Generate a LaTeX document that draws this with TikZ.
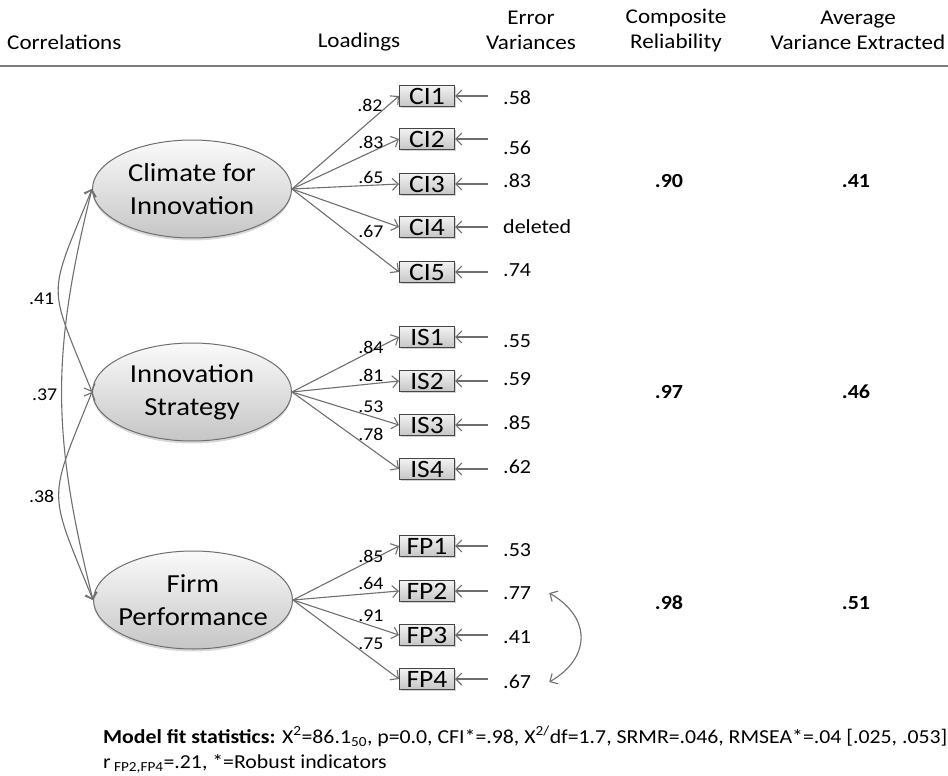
\documentclass[tikz,border=0pt]{standalone}
\usepackage{fontspec}
\setmainfont{Carlito}[FakeStretch=1.1]
\usetikzlibrary{arrows.meta, shapes.geometric, shadows}
\definecolor{linegray}{RGB}{110,110,110}
\definecolor{boxedge}{RGB}{70,70,70}
\definecolor{rulegray}{RGB}{125,125,125}

\begin{document}
\begin{tikzpicture}[x=1pt, y=1pt,
    latent/.style={ellipse, draw=linegray, line width=1pt, top color=gray!4, bottom color=gray!45,
                   minimum width=199pt, minimum height=98pt, inner xsep=-7pt, inner ysep=0pt,
                   align=center, font=\fontsize{26}{33}\selectfont,
                   drop shadow={shadow xshift=0pt, shadow yshift=-2.5pt, opacity=0.3}},
    item/.style={rectangle, draw=boxedge, line width=1pt, top color=gray!10, bottom color=gray!45,
                 minimum width=55pt, minimum height=21pt, inner sep=0pt,
                 font=\fontsize{25}{25}\selectfont,
                 drop shadow={shadow xshift=1.5pt, shadow yshift=-1.5pt, opacity=0.35}},
    arrow/.style={draw=linegray, line width=1.1pt, -{Straight Barb[length=6pt, width=12pt]}},
    both/.style={draw=linegray, line width=1.1pt,
                 {Straight Barb[length=6pt, width=12pt]}-{Straight Barb[length=6pt, width=12pt]}},
    err/.style={anchor=west, inner sep=0pt, font=\fontsize{20}{20}\selectfont},
    load/.style={inner sep=0pt, font=\fontsize{18}{18}\selectfont},
    head/.style={align=center, inner sep=0pt, font=\fontsize{21}{25}\selectfont},
    val/.style={inner sep=0pt, font=\bfseries\fontsize{20}{20}\selectfont}
]
    \useasboundingbox (0,0) rectangle (948,-776);

    \node[head, anchor=west] (hcorr) at (7,-42) {Correlations};
    \node[head] (hload) at (359,-42) {Loadings};
    \node[head] (herr) at (531,-30) {Error\\Variances};
    \node[head] (hcomp) at (676,-30) {Composite\\Reliability};
    \node[head] (have) at (858,-30) {Average\\Variance Extracted};
    \draw[rulegray, line width=2.5pt] (0,-66) -- (948,-66);

    \node[latent] (CI) at (192,-189) {Climate for\\Innovation};
    \node[latent] (IS) at (192,-392) {Innovation\\Strategy};
    \node[latent] (FP) at (193,-600) {Firm\\Performance};

    \node[item] (CI1) at (427,-96) {CI1};
    \node[item] (CI2) at (427,-139) {CI2};
    \node[item] (CI3) at (427,-184) {CI3};
    \node[item] (CI4) at (427,-227) {CI4};
    \node[item] (CI5) at (427,-272) {CI5};
    \node[item] (IS1) at (427,-337) {IS1};
    \node[item] (IS2) at (427,-381) {IS2};
    \node[item] (IS3) at (427,-425) {IS3};
    \node[item] (IS4) at (427,-469) {IS4};
    \node[item] (FP1) at (427,-546) {FP1};
    \node[item] (FP2) at (427,-591) {FP2};
    \node[item] (FP3) at (427,-635) {FP3};
    \node[item] (FP4) at (427,-679) {FP4};

    \node[err] (eCI1) at (503,-98) {.58};
    \node[err] (eCI2) at (503,-148) {.56};
    \node[err] (eCI3) at (503,-181) {.83};
    \node[err] (eCI4) at (503,-227) {deleted};
    \node[err] (eCI5) at (503,-270) {.74};
    \node[err] (eIS1) at (503,-341) {.55};
    \node[err] (eIS2) at (503,-379) {.59};
    \node[err] (eIS3) at (503,-423) {.85};
    \node[err] (eIS4) at (503,-467) {.62};
    \node[err] (eFP1) at (503,-550) {.53};
    \node[err] (eFP2) at (503,-593) {.77};
    \node[err] (eFP3) at (503,-637) {.41};
    \node[err] (eFP4) at (503,-682) {.67};

    \draw[arrow] (CI.east) -- (CI1.west); \draw[arrow] (CI.east) -- (CI2.west);
    \draw[arrow] (CI.east) -- (CI3.west); \draw[arrow] (CI.east) -- (CI4.west);
    \draw[arrow] (CI.east) -- (CI5.west);
    \draw[arrow] (IS.east) -- (IS1.west); \draw[arrow] (IS.east) -- (IS2.west);
    \draw[arrow] (IS.east) -- (IS3.west); \draw[arrow] (IS.east) -- (IS4.west);
    \draw[arrow] (FP.east) -- (FP1.west); \draw[arrow] (FP.east) -- (FP2.west);
    \draw[arrow] (FP.east) -- (FP3.west); \draw[arrow] (FP.east) -- (FP4.west);

    \node[load] (lCI1) at (370,-105) {.82};
    \node[load] (lCI2) at (371,-142) {.83};
    \node[load] (lCI3) at (371,-177) {.65};
    \node[load] (lCI4) at (371,-231) {.67};
    \node[load] (lIS1) at (371,-347) {.84};
    \node[load] (lIS2) at (371,-375) {.81};
    \node[load] (lIS3) at (371,-407) {.53};
    \node[load] (lIS4) at (371,-434) {.78};
    \node[load] (lFP1) at (371,-556) {.85};
    \node[load] (lFP2) at (371,-583) {.64};
    \node[load] (lFP3) at (371,-616) {.91};
    \node[load] (lFP4) at (371,-644) {.75};

    \draw[arrow] ([xshift=-15pt]CI1.east -| eCI1.west) -- (CI1.east);
    \draw[arrow] ([xshift=-15pt]CI2.east -| eCI2.west) -- (CI2.east);
    \draw[arrow] ([xshift=-15pt]CI3.east -| eCI3.west) -- (CI3.east);
    \draw[arrow] ([xshift=-15pt]CI4.east -| eCI4.west) -- (CI4.east);
    \draw[arrow] ([xshift=-15pt]CI5.east -| eCI5.west) -- (CI5.east);
    \draw[arrow] ([xshift=-15pt]IS1.east -| eIS1.west) -- (IS1.east);
    \draw[arrow] ([xshift=-15pt]IS2.east -| eIS2.west) -- (IS2.east);
    \draw[arrow] ([xshift=-15pt]IS3.east -| eIS3.west) -- (IS3.east);
    \draw[arrow] ([xshift=-15pt]IS4.east -| eIS4.west) -- (IS4.east);
    \draw[arrow] ([xshift=-15pt]FP1.east -| eFP1.west) -- (FP1.east);
    \draw[arrow] ([xshift=-15pt]FP2.east -| eFP2.west) -- (FP2.east);
    \draw[arrow] ([xshift=-15pt]FP3.east -| eFP3.west) -- (FP3.east);
    \draw[arrow] ([xshift=-15pt]FP4.east -| eFP4.west) -- (FP4.east);
    \draw[both] ([xshift=18pt]eFP2.east) to[bend left=60, looseness=1.4] ([xshift=18pt]eFP4.east);

    \draw[both] (CI.west) to[out=248, in=112, distance=120pt] node[load, pos=0.56, left=4pt] {.41} (IS.west);
    \draw[both] (CI.west) to[out=256, in=104, distance=170pt] node[load, pos=0.5, left=4pt] {.37} (FP.west);
    \draw[both] (IS.west) to[out=248, in=112, distance=120pt] node[load, pos=0.5, left=4pt] {.38} (FP.west);

    \node[val] (crCI) at (669,-181) {.90};
    \node[val] (aveCI) at (856,-181) {.41};
    \node[val] (crIS) at (669,-392) {.97};
    \node[val] (aveIS) at (856,-392) {.46};
    \node[val] (crFP) at (669,-603) {.98};
    \node[val] (aveFP) at (856,-603) {.51};

    \node[anchor=north west, align=left, inner sep=0pt, font=\fontsize{19.8}{25}\selectfont] (fit) at (103,-726)
        {\textbf{Model fit statistics:} X\textsuperscript{2}=86.1\textsubscript{50}, p=0.0, CFI*=.98, X\textsuperscript{2/}df=1.7, SRMR=.046, RMSEA*=.04 [.025, .053]\\
         r\,\textsubscript{FP2,FP4}=.21, *=Robust indicators};
\end{tikzpicture}
\end{document}
